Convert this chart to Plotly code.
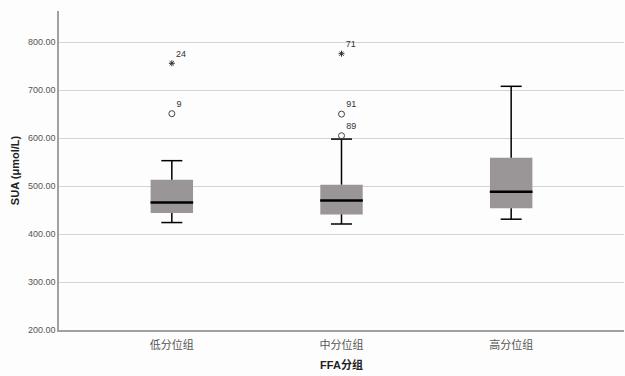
import plotly.graph_objects as go

categories = ["低分位组", "中分位组", "高分位组"]
q1 = [444, 441, 454]
median = [466, 470, 488]
q3 = [513, 503, 559]
lower_whisker = [424, 421, 431]
upper_whisker = [553, 598, 708]

# outliers (circle) and extremes (star)
outlier_x = ["低分位组", "中分位组", "中分位组"]
outlier_y = [651, 650, 605]
outlier_labels = ["9", "91", "89"]
extreme_x = ["低分位组", "中分位组"]
extreme_y = [756, 776]
extreme_labels = ["24", "71"]

y_ticks = [200, 300, 400, 500, 600, 700, 800]

fig = go.Figure()

box_h = [b - a for a, b in zip(q1, q3)]
fig.add_trace(go.Bar(x=categories, y=box_h, base=q1, width=0.25,
                     marker=dict(color="#9a9697", line=dict(width=0)),
                     hoverinfo="skip", showlegend=False))

# whisker stems
wx, wy = [], []
for c, a, b, lo, hi in zip(categories, q1, q3, lower_whisker, upper_whisker):
    wx += [c, c, None, c, c, None]
    wy += [b, hi, None, lo, a, None]
fig.add_trace(go.Scatter(x=wx, y=wy, mode="lines",
                         line=dict(color="black", width=1.5),
                         showlegend=False, hoverinfo="skip"))
# whisker caps
fig.add_trace(go.Scatter(x=categories + categories, y=upper_whisker + lower_whisker,
                         mode="markers",
                         marker=dict(symbol="line-ew", size=15,
                                     line=dict(color="black", width=1.5)),
                         showlegend=False, hoverinfo="skip"))
# medians
fig.add_trace(go.Scatter(x=categories, y=median, mode="markers",
                         marker=dict(symbol="line-ew", size=30.5,
                                     line=dict(color="black", width=2.5)),
                         showlegend=False, hoverinfo="skip"))

# outliers
fig.add_trace(go.Scatter(x=outlier_x, y=outlier_y, mode="markers+text",
                         text=outlier_labels, textposition="top right",
                         textfont=dict(size=9, color="#333333", family="Arial"),
                         marker=dict(symbol="circle-open", size=6, color="#444444",
                                     line=dict(color="#444444", width=1)),
                         showlegend=False))
fig.add_trace(go.Scatter(x=extreme_x, y=extreme_y, mode="markers+text",
                         text=extreme_labels, textposition="top right",
                         textfont=dict(size=9, color="#333333", family="Arial"),
                         marker=dict(symbol="asterisk-open", size=5, color="#333333",
                                     line=dict(color="#333333", width=1)),
                         showlegend=False))

fig.update_layout(
    width=625, height=376,
    margin=dict(l=59, r=1, t=11, b=46),
    paper_bgcolor="#fdfdfd", plot_bgcolor="#fdfdfd",
    font=dict(family="Arial, 'Noto Sans CJK SC'", color="#333333"),
    showlegend=False,
)
fig.update_xaxes(
    type="category", range=[-0.665, 2.665],
    showgrid=False, showline=True, linecolor="#a0a0a0", linewidth=1.5,
    ticks="", ticklabelstandoff=4,
    tickfont=dict(size=11, family="'Noto Sans CJK SC'", color="#555555"),
    title=dict(text="<b>FFA分组</b>", font=dict(size=11, family="Arial, 'Noto Sans CJK SC'", color="#222222"), standoff=10),
)
fig.update_yaxes(
    range=[200, 865], tickvals=y_ticks,
    ticktext=[f"{v:.2f}" for v in y_ticks],
    showgrid=True, gridcolor="#d4d4d4", gridwidth=1,
    showline=True, linecolor="#a0a0a0", linewidth=1.5,
    ticks="", ticklen=0, zeroline=False,
    tickfont=dict(size=9, color="#555555", family="Arial"),
    title=dict(text="<b>SUA (μmol/L)</b>", font=dict(size=11, color="#222222", family="Arial"), standoff=6),
)

fig.write_html("out.html", config={"displayModeBar": False},
               post_script="document.body.style.margin='0';")
